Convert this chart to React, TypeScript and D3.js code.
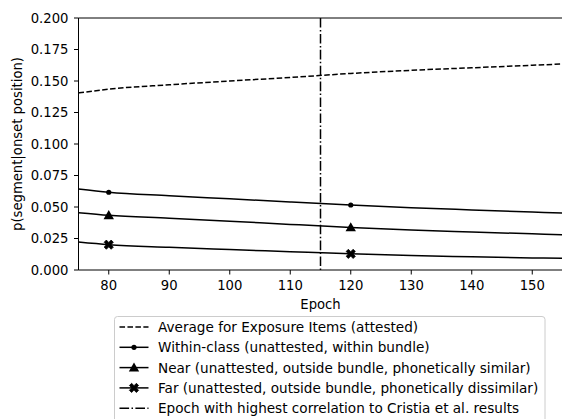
import React from "react";
import * as d3 from "d3";

const epochs = [75, 80, 90, 100, 110, 120, 130, 140, 150, 155];
const averageExposure = [0.1405, 0.1435, 0.147, 0.15, 0.1528, 0.156, 0.1585, 0.1605, 0.1625, 0.1635];
const withinClass = [0.0643, 0.0617, 0.059, 0.0565, 0.054, 0.0516, 0.0495, 0.0477, 0.046, 0.0452];
const nearSeries = [0.0455, 0.0434, 0.0411, 0.0387, 0.0362, 0.0338, 0.0318, 0.0302, 0.0287, 0.028];
const farSeries = [0.0222, 0.0201, 0.018, 0.0162, 0.0145, 0.0128, 0.0115, 0.0105, 0.0096, 0.0093];
const markerEpochs = [80, 120];
const bestEpoch = 115;
const xTicks = [80, 90, 100, 110, 120, 130, 140, 150];
const yTicks = [0, 0.025, 0.05, 0.075, 0.1, 0.125, 0.15, 0.175, 0.2];
const legendLabels = [
  "Average for Exposure Items (attested)",
  "Within-class (unattested, within bundle)",
  "Near (unattested, outside bundle, phonetically similar)",
  "Far (unattested, outside bundle, phonetically dissimilar)",
  "Epoch with highest correlation to Cristia et al. results",
];

const W = 562;
const H = 419;
const left = 78.5;
const top = 18;
const bottom = 270;
const right = 562.5;
const FONT = "DejaVu Sans, sans-serif";
const FS = 13.2;
const LFS = 13.6;

type Marker = "none" | "dot" | "tri" | "x";

function MarkerShape({ kind, x, y }: { kind: Marker; x: number; y: number }) {
  if (kind === "dot") return <circle cx={x} cy={y} r={2.6} fill="#000" />;
  if (kind === "tri") {
    const s = 5.2;
    return (
      <path
        d={`M${x},${y - s}L${x + s},${y + s * 0.75}L${x - s},${y + s * 0.75}Z`}
        fill="#000"
      />
    );
  }
  if (kind === "x") {
    const a = 4.6;
    const b = 2.2;
    const pts: [number, number][] = [
      [-a, -a + b], [-a + b, -a], [0, -b], [a - b, -a], [a, -a + b], [b, 0],
      [a, a - b], [a - b, a], [0, b], [-a + b, a], [-a, a - b], [-b, 0],
    ];
    return (
      <path
        d={"M" + pts.map((p) => `${x + p[0]},${y + p[1]}`).join("L") + "Z"}
        fill="#000"
        stroke="#000"
        strokeWidth={0.8}
      />
    );
  }
  return null;
}

export default function App() {
  const x = d3.scaleLinear().domain([75, 155]).range([left, right]);
  const y = d3.scaleLinear().domain([0, 0.2]).range([bottom, top]);
  const line = d3
    .line<[number, number]>()
    .x((d) => x(d[0]))
    .y((d) => y(d[1]))
    .curve(d3.curveMonotoneX);

  const series: { values: number[]; dash?: string; marker: Marker }[] = [
    { values: averageExposure, dash: "5.55,2.4", marker: "none" },
    { values: withinClass, marker: "dot" },
    { values: nearSeries, marker: "tri" },
    { values: farSeries, marker: "x" },
  ];

  const interp = (vals: number[], e: number) => {
    const i = epochs.indexOf(e);
    if (i >= 0) return vals[i];
    return d3.scaleLinear().domain(epochs).range(vals)(e);
  };

  const legendX = 114.5;
  const legendY = 316.5;
  const rowH = 20.3;

  return (
    <svg
      width={W}
      height={H}
      style={{ position: "absolute", left: 0, top: 0, background: "#fff" }}
      fontFamily={FONT}
    >
      <rect x={0} y={0} width={W} height={H} fill="#fff" />
      <defs>
        <clipPath id="plotclip">
          <rect x={left} y={top} width={right - left} height={bottom - top} />
        </clipPath>
      </defs>
      <g clipPath="url(#plotclip)">
        {series.map((s, i) => (
          <path
            key={i}
            d={line(epochs.map((e, j) => [e, s.values[j]] as [number, number])) || ""}
            fill="none"
            stroke="#000"
            strokeWidth={1.5}
            strokeDasharray={s.dash}
          />
        ))}
        <line
          x1={x(bestEpoch)}
          x2={x(bestEpoch)}
          y1={top}
          y2={bottom}
          stroke="#000"
          strokeWidth={1.5}
          strokeDasharray="9.6,2.4,1.5,2.4"
        />
        {series.map((s, i) =>
          s.marker === "none"
            ? null
            : markerEpochs.map((e) => (
                <MarkerShape key={`${i}-${e}`} kind={s.marker} x={x(e)} y={y(interp(s.values, e))} />
              ))
        )}
      </g>
      <line x1={left} x2={left} y1={top} y2={bottom} stroke="#000" strokeWidth={1} />
      <line x1={left} x2={right} y1={bottom} y2={bottom} stroke="#000" strokeWidth={1} />
      <line x1={left} x2={right} y1={top} y2={top} stroke="#000" strokeWidth={1} />
      {xTicks.map((t) => (
        <g key={t}>
          <line x1={x(t)} x2={x(t)} y1={bottom} y2={bottom + 4.5} stroke="#000" strokeWidth={1} />
          <text x={x(t)} y={bottom + 16} textAnchor="middle" dominantBaseline="middle" fontSize={FS} fill="#000">
            {t}
          </text>
        </g>
      ))}
      {yTicks.map((t) => (
        <g key={t}>
          <line x1={left - 4.5} x2={left} y1={y(t)} y2={y(t)} stroke="#000" strokeWidth={1} />
          <text x={left - 10} y={y(t)} textAnchor="end" dominantBaseline="central" fontSize={FS} fill="#000">
            {d3.format(".3f")(t)}
          </text>
        </g>
      ))}
      <text x={x(115)} y={bottom + 35} textAnchor="middle" dominantBaseline="middle" fontSize={FS} fill="#000">
        Epoch
      </text>
      <text
        transform={`translate(17,${(top + bottom) / 2}) rotate(-90)`}
        textAnchor="middle"
        dominantBaseline="central"
        fontSize={FS}
        fill="#000"
      >
        p(segment|onset position)
      </text>
      <rect
        x={legendX}
        y={legendY}
        width={545 - legendX}
        height={120}
        rx={3}
        fill="#fff"
        fillOpacity={0.8}
        stroke="#ccc"
        strokeWidth={1}
      />
      {legendLabels.map((lab, i) => {
        const cy = legendY + 10.5 + i * rowH;
        const hx1 = 119.5;
        const hx2 = 148.5;
        const marker: Marker = i === 1 ? "dot" : i === 2 ? "tri" : i === 3 ? "x" : "none";
        const dash = i === 0 ? "5.55,2.4" : i === 4 ? "9.6,2.4,1.5,2.4" : undefined;
        return (
          <g key={i}>
            <line x1={hx1} x2={hx2} y1={cy} y2={cy} stroke="#000" strokeWidth={1.5} strokeDasharray={dash} />
            <MarkerShape kind={marker} x={(hx1 + hx2) / 2} y={cy} />
            <text x={158} y={cy} dominantBaseline="central" fontSize={LFS} fill="#000">
              {lab}
            </text>
          </g>
        );
      })}
    </svg>
  );
}
